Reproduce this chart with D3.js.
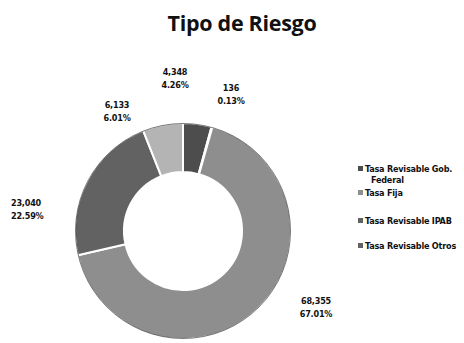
<!DOCTYPE html>
<html>
<head>
<meta charset="utf-8">
<script src="https://cdn.jsdelivr.net/npm/d3@7"></script>
<style>
  html, body { margin: 0; padding: 0; background: #fff; }
  svg { display: block; }
</style>
</head>
<body>
<svg id="chart" width="464" height="343"></svg>
<script>
// Portfolio by rate type (millions), clockwise from 12 o'clock
const sliceValues = [4348, 136, 68355, 23040, 6133];
const slicePercents = ["4.26%", "0.13%", "67.01%", "22.59%", "6.01%"];
const sliceFills = ["#4d4d4d", "#3a3a3a", "#8e8e8e", "#626262", "#b4b4b4"];
const legendLabels = [
  ["Tasa Revisable Gob.", "Federal"],
  ["Tasa Fija"],
  ["Tasa Revisable IPAB"],
  ["Tasa Revisable Otros"]
];
const legendFills = ["#4d4d4d", "#8e8e8e", "#626262", "#626262"];

const svg = d3.select("#chart");
const cx = 183, cy = 231, outerR = 108, innerR = 59;
const fmt = d3.format(",");

svg.append("text")
  .attr("x", 242).attr("y", 31)
  .attr("text-anchor", "middle")
  .attr("font-family", "Open Sans, sans-serif")
  .attr("font-weight", "bold")
  .attr("font-size", 21.5)
  .attr("letter-spacing", -0.3)
  .attr("fill", "#111")
  .text("Tipo de Riesgo");

const pie = d3.pie().sort(null).value(d => d);
const arcs = pie(sliceValues);
const arc = d3.arc().innerRadius(innerR).outerRadius(outerR);

const g = svg.append("g").attr("transform", `translate(${cx},${cy})`);
g.selectAll("path.slice")
  .data(arcs)
  .join("path")
  .attr("class", "slice")
  .attr("d", arc)
  .attr("fill", (d, i) => sliceFills[i])
  .attr("stroke", "#fff")
  .attr("stroke-width", 2);

// outer rim shading
g.append("circle").attr("r", outerR - 0.5)
  .attr("fill", "none").attr("stroke", "#222").attr("stroke-width", 1).attr("opacity", 0.6);

// data labels (value + percent), placed outside the ring
const labelPos = [
  [175, 75, "middle"],
  [231, 91, "middle"],
  [316, 304, "middle"],
  [11, 206, "start"],
  [117, 108, "middle"]
];
const labels = svg.append("g")
  .attr("font-family", "DejaVu Sans Condensed, sans-serif")
  .attr("font-weight", "bold")
  .attr("font-size", 9)
  .attr("letter-spacing", -0.2)
  .attr("fill", "#111");
arcs.forEach((d, i) => {
  const [x, y, anchor] = labelPos[i];
  const t = labels.append("text").attr("x", x).attr("y", y).attr("text-anchor", anchor);
  t.append("tspan").attr("x", x).text(fmt(d.data));
  t.append("tspan").attr("x", x).attr("dy", 12.5).text(slicePercents[i]);
});

// legend
const legendRows = [172, 196, 224, 249];
const legend = svg.append("g")
  .attr("font-family", "DejaVu Sans Condensed, sans-serif")
  .attr("font-weight", "bold")
  .attr("font-size", 9)
  .attr("letter-spacing", -0.2)
  .attr("fill", "#111");
legendLabels.forEach((lines, i) => {
  const y = legendRows[i];
  legend.append("rect")
    .attr("x", 358).attr("y", y - 6)
    .attr("width", 5).attr("height", 5)
    .attr("fill", legendFills[i]);
  lines.forEach((s, j) => {
    legend.append("text")
      .attr("x", j === 0 ? 365 : 371)
      .attr("y", y + j * 11)
      .text(s);
  });
});
</script>
</body>
</html>
